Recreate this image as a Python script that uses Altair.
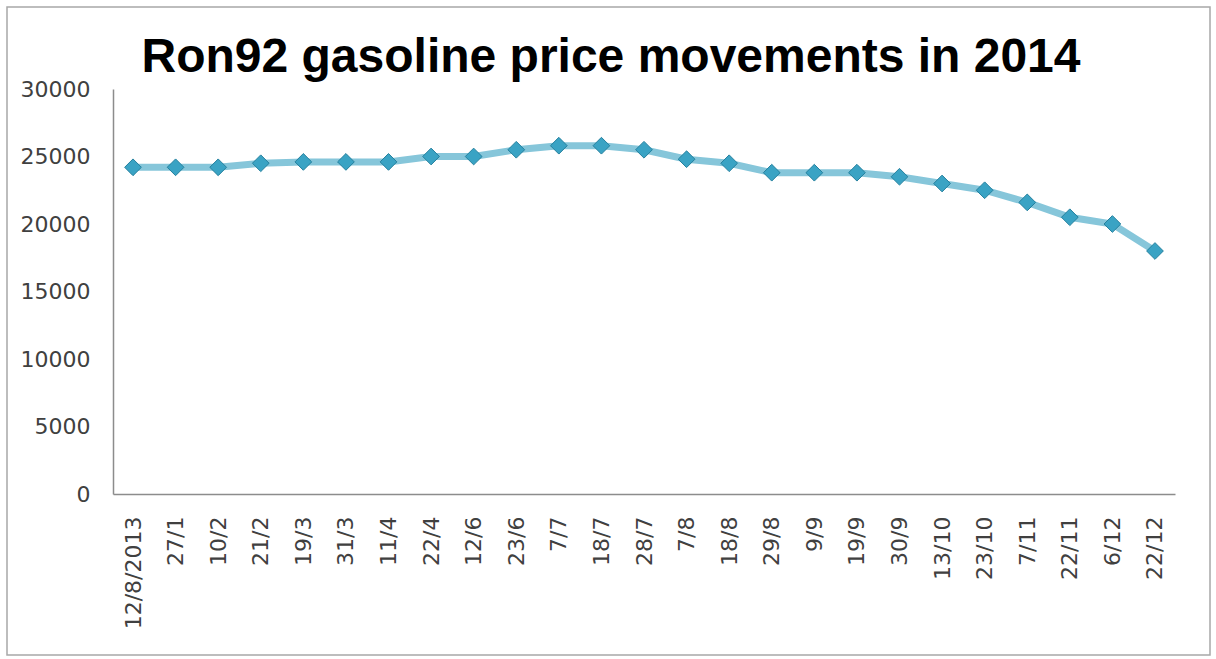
import altair as alt
import pandas as pd

# Ron92 retail price adjustments (VND per litre)
dates = ["12/8/2013", "27/1", "10/2", "21/2", "19/3", "31/3", "11/4", "22/4",
         "12/6", "23/6", "7/7", "18/7", "28/7", "7/8", "18/8", "29/8", "9/9",
         "19/9", "30/9", "13/10", "23/10", "7/11", "22/11", "6/12", "22/12"]
prices = [24200, 24200, 24200, 24500, 24600, 24600, 24600, 25000,
          25000, 25500, 25800, 25800, 25500, 24800, 24500, 23800, 23800,
          23800, 23500, 23000, 22500, 21600, 20500, 20000, 18000]
y_ticks = [0, 5000, 10000, 15000, 20000, 25000, 30000]
chart_title = "Ron92 gasoline price movements in 2014"

df = pd.DataFrame({"date": dates, "price": prices})

W, H = 1062, 405

x_enc = alt.X(
    "date:N", sort=dates, title=None,
    scale=alt.Scale(type="point", padding=0.47),
    axis=alt.Axis(labelAngle=-90, labelPadding=22, ticks=False, tickSize=0,
                  labelFontSize=22, labelFont="DejaVu Sans", labelColor="#404040",
                  domainColor="#8c8c8c", domainWidth=1.5, grid=False),
)
y_enc = alt.Y(
    "price:Q", title=None,
    scale=alt.Scale(domain=[0, 30000], nice=False, zero=True),
    axis=alt.Axis(values=y_ticks, format="d", labelPadding=23, ticks=False, tickSize=0,
                  labelFontSize=22, labelFont="DejaVu Sans", labelColor="#404040",
                  domainColor="#8c8c8c", domainWidth=1.5, grid=False,
                  labelBaseline="middle"),
)

base = alt.Chart(df).encode(x=x_enc, y=y_enc)

line = base.mark_line(color="#86c6da", strokeWidth=7)
points = base.mark_point(shape="diamond", filled=True, size=280, opacity=1,
                         color="#3aa3c4", stroke="#24809e", strokeWidth=1)

single = alt.Chart(df).transform_filter(alt.datum.date == dates[0])

# thin frame around the whole figure
frame = single.mark_rect(fill=None, stroke="#a8a8a8", strokeWidth=1.5).encode(
    x=alt.value(-106), x2=alt.value(1097), y=alt.value(-82), y2=alt.value(566)
)

# heading, centred on the figure rather than on the plot area
heading = single.mark_text(
    align="center", baseline="alphabetic", font="Liberation Sans",
    fontSize=48, fontWeight="bold", color="#000000",
).encode(x=alt.value(498), y=alt.value(-17), text=alt.value(chart_title))

chart = alt.layer(frame, line, points, heading).properties(
    width=W, height=H,
    autosize=alt.AutoSizeParams(type="none"),
    padding={"left": 113, "top": 89, "right": 41, "bottom": 165},
    background="white",
).configure_view(stroke=None)

chart.save("out.html", embed_options={"renderer": "svg", "actions": False})
